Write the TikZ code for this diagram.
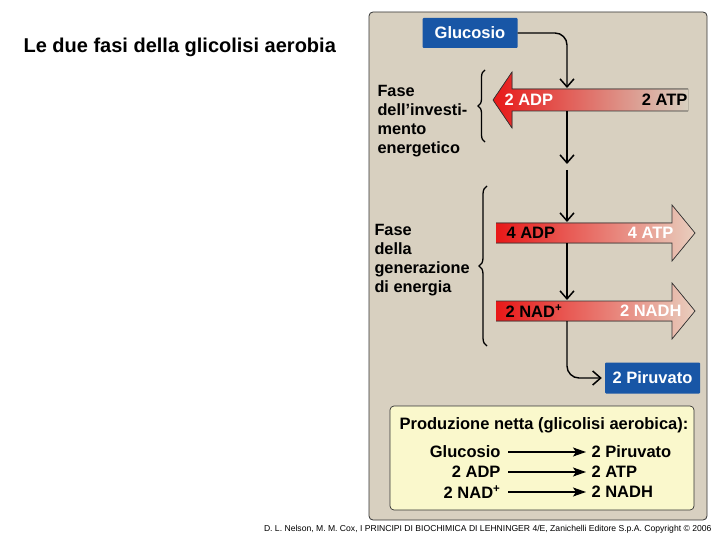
\documentclass[tikz,border=0pt]{standalone}
\usepackage{fontspec}
\setmainfont{Liberation Sans}
\usetikzlibrary{arrows.meta,decorations.pathreplacing,positioning}

\definecolor{panelbeige}{RGB}{216,208,192}
\definecolor{boxblue}{RGB}{24,86,166}
\definecolor{netyellow}{RGB}{250,248,204}
\definecolor{hotred}{RGB}{232,24,24}
\definecolor{midred}{RGB}{236,120,96}
\definecolor{palered}{RGB}{232,206,190}

\tikzset{
  tag/.style={fill=boxblue, text=white, rounded corners=1pt, minimum width=95pt,
    minimum height=30pt, font=\bfseries\fontsize{16.5}{19}\selectfont},
  phase/.style={anchor=west, align=left, font=\bfseries\fontsize{16.3}{19}\selectfont},
  onarrow/.style={font=\bfseries\fontsize{16.5}{19}\selectfont},
  netline/.style={font=\bfseries\fontsize{16.5}{20}\selectfont},
  flow/.style={line width=1.4pt, -{Straight Barb[length=8pt,width=14pt,line width=1.5pt]}},
  bandfill/.style={draw=none, left color=hotred, middle color=midred, right color=palered},
  bandedge/.style={line width=0.7pt, draw=black!80},
}

\begin{document}
\begin{tikzpicture}[x=1pt,y=-1pt]
  \useasboundingbox (0,0) rectangle (720,540);

  \node[anchor=west, font=\bfseries\fontsize{20}{23}\selectfont] (title) at (20,47) {Le due fasi della glicolisi aerobia};

  % panel
  \draw[fill=panelbeige, draw=black!80, line width=0.8pt, rounded corners=4pt] (369,12) rectangle (707,520);

  \node[tag] (glu) at (470,33) {Glucosio};
  \node[tag, minimum height=31pt] (piru) at (652.5,378) {2 Piruvato};

  % investment arrow (points left)
  \fill[bandfill, right color=panelbeige] (688,89) -- (512,89) -- (512,72) -- (493,100) -- (512,128) -- (512,111) -- (688,111) -- cycle;
  \draw[bandedge] (688,89) -- (512,89) -- (512,72) -- (493,100) -- (512,128) -- (512,111) -- (688,111);
  \node[onarrow, text=white, anchor=west] (adp1) at (501,100) {2 ADP};
  \node[onarrow, anchor=east] (atp1) at (691,100) {2 ATP};

  % payoff arrows (point right)
  \fill[bandfill] (496,223) -- (672,223) -- (672,205) -- (695,233) -- (672,261) -- (672,243) -- (496,243) -- cycle;
  \draw[bandedge] (496,223) -- (672,223) -- (672,205) -- (695,233) -- (672,261) -- (672,243) -- (496,243);
  \node[onarrow, anchor=west] (adp2) at (503,233) {4 ADP};
  \node[onarrow, text=white, anchor=east] (atp2) at (677,233) {4 ATP};

  \fill[bandfill] (496,301) -- (672,301) -- (672,283) -- (695,311) -- (672,339) -- (672,321) -- (496,321) -- cycle;
  \draw[bandedge] (496,301) -- (672,301) -- (672,283) -- (695,311) -- (672,339) -- (672,321) -- (496,321);
  \node[onarrow, anchor=west] (nad) at (502,311) {2 NAD\textsuperscript{+}};
  \node[onarrow, text=white, anchor=east] (nadh) at (685,311) {2 NADH};

  \coordinate (a1top) at (567,88);
  \coordinate (a1bot) at (567,111);
  \coordinate (mid) at (567,164);
  \coordinate (a2top) at (567,222);
  \coordinate (a2bot) at (567,243);
  \coordinate (a3top) at (567,300);
  \coordinate (a3bot) at (567,321);

  \draw[flow, rounded corners=12pt] (glu.east) -| (a1top);
  \draw[flow] (a1bot) -- (mid);
  \draw[flow] ([yshift=-6pt]mid) -- (a2top);
  \draw[flow] (a2bot) -- (a3top);
  \draw[flow, rounded corners=12pt] (a3bot) |- ([xshift=-3pt]piru.west);

  % phase labels
  \node[phase] (invest) at (374,121) {Fase\\dell'investi-\\mento\\energetico};
  \node[phase] (payoff) at (371,260) {Fase\\della\\generazione\\di energia};
  \draw[line width=1.3pt, decorate, decoration={brace, amplitude=7pt}] (485,142) -- (485,70);
  \draw[line width=1.3pt, decorate, decoration={brace, amplitude=8pt}] (487,346) -- (487,186);

  % net yield
  \node[draw=black!80, fill=netyellow, line width=0.7pt, rounded corners=4pt,
    minimum width=304pt, minimum height=104pt] (net) at (542,458) {};
  \node[netline] (nethead) at (544,425) {Produzione netta (glicolisi aerobica):};
  \node[netline, anchor=east] (l1) at (504,452) {Glucosio};
  \node[netline, anchor=east] (l2) at (504,472) {2 ADP};
  \node[netline, anchor=east] (l3) at (504,492) {2 NAD\textsuperscript{+}};
  \node[netline, anchor=west] (r1) at (588,452) {2 Piruvato};
  \node[netline, anchor=west] (r2) at (588,472) {2 ATP};
  \node[netline, anchor=west] (r3) at (588,492) {2 NADH};
  \foreach \i in {1,2,3}
    \draw[line width=1.3pt, shorten <=4pt, shorten >=2pt, -{Stealth[length=13pt,width=9pt,inset=3pt]}] (l\i.east) -- (r\i.west);

  \node[font=\fontsize{8.6}{10}\selectfont, anchor=east] (credit) at (715,529) {D. L. Nelson, M. M. Cox, I PRINCIPI DI BIOCHIMICA DI LEHNINGER 4/E, Zanichelli Editore S.p.A. Copyright © 2006};
\end{tikzpicture}
\end{document}
